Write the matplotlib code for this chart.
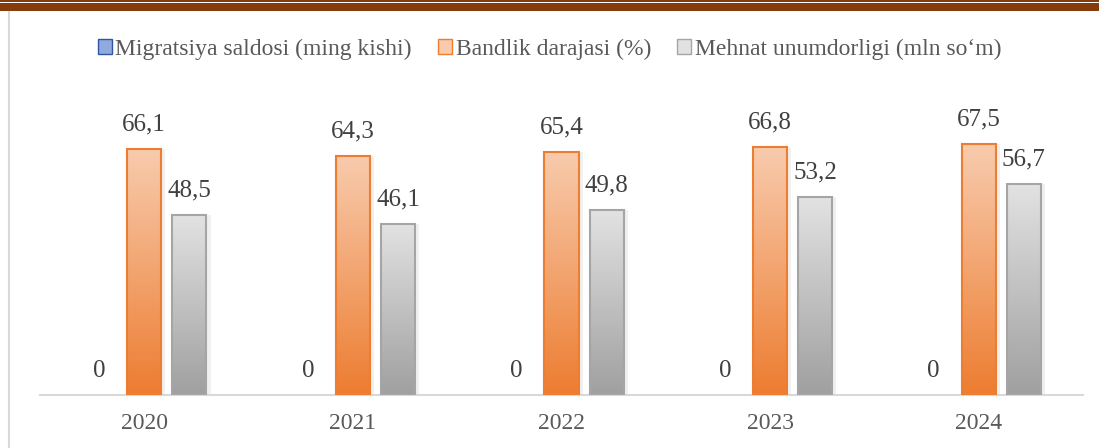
import matplotlib.pyplot as plt
import numpy as np
from matplotlib.patches import Patch, Rectangle
from matplotlib.lines import Line2D

plt.rcParams['font.family'] = ['Liberation Serif', 'DejaVu Serif']

years = ['2020', '2021', '2022', '2023', '2024']
migratsiya = [0, 0, 0, 0, 0]
bandlik = [66.1, 64.3, 65.4, 66.8, 67.5]
mehnat = [48.5, 46.1, 49.8, 53.2, 56.7]
labels = ['Migratsiya saldosi (ming kishi)', 'Bandlik darajasi (%)', 'Mehnat unumdorligi (mln so\u2018m)']

fig = plt.figure(figsize=(10.99, 4.48), dpi=100)
ax = fig.add_axes([40/1099, 53/448, 1043/1099, 0.664])

x = np.arange(len(years))
w = 0.163
off = 0.216

series = [migratsiya, bandlik, mehnat]
tops = ['#8faadc', '#f8cbad', '#e2e2e2']
bots = ['#2f55a4', '#ed7d31', '#a0a0a0']
edges = ['#2f55a4', '#ed7d31', '#a5a5a5']

#bars with vertical gradient fill
for i, vals in enumerate(series):
    bars = ax.bar(x + (i - 1) * off, vals, w, color='none',
                  edgecolor=[edges[i] if v else 'none' for v in vals], linewidth=1.5, zorder=3)
    c1 = np.array(plt.matplotlib.colors.to_rgb(tops[i]))
    c2 = np.array(plt.matplotlib.colors.to_rgb(bots[i]))
    for b, v in zip(bars, vals):
        x0, y0 = b.get_x(), b.get_y()
        bw, bh = b.get_width(), b.get_height()
        if bh > 0:
            grad = np.linspace(0, 1, 100).reshape(-1, 1, 1)
            img = c1 * (1 - grad) + c2 * grad
            ax.imshow(img, extent=[x0, x0 + bw, y0, y0 + bh], aspect='auto', origin='upper', zorder=2)
            ax.add_patch(Rectangle((x0 + bw, y0), 0.02, bh, color='#000000', alpha=0.06, lw=0, zorder=1))
        txt = f'{v:.1f}'.replace('.', ',') if v else '0'
        ax.text(x0 + bw / 2, v + 3.6, txt, ha='center', va='bottom', fontsize=18, color='#404040', zorder=4)

ax.set_xlim(-0.5, 4.5)
ax.set_ylim(0, 80)
ax.set_xticks(x)
ax.set_xticklabels(years, fontsize=17, color='#595959')
ax.tick_params(axis='x', length=0, pad=13)
ax.set_yticks([])
for s in ['top', 'right', 'left']:
    ax.spines[s].set_visible(False)
ax.spines['bottom'].set_color('#d9d9d9')
ax.spines['bottom'].set_linewidth(1.5)

handles = [Patch(facecolor=tops[i], edgecolor=edges[i], label=labels[i]) for i in range(3)]
fig.legend(handles=handles, loc='center', bbox_to_anchor=(0.5, 1 - 49/448), ncol=3, frameon=False,
           fontsize=17, labelcolor='#595959', handlelength=0.6, handleheight=0.6, handletextpad=0.15,
           columnspacing=1.1)

#brown top band and gray left rule
fig.add_artist(Rectangle((0, 1 - 2/448), 1, 2/448, transform=fig.transFigure, color='#843c0c', lw=0))
fig.add_artist(Rectangle((0, 1 - 11/448), 1, 8/448, transform=fig.transFigure, color='#843c0c', lw=0))
fig.add_artist(Line2D([8.5/1099, 8.5/1099], [0, 1 - 12/448], transform=fig.transFigure, color='#d9d9d9', lw=1.5))

fig.savefig('out.png', dpi=100)
